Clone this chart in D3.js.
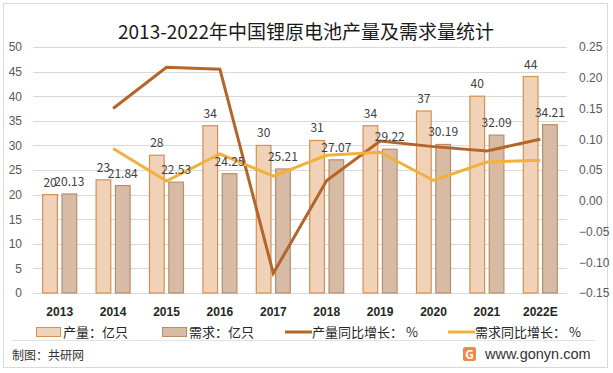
<!DOCTYPE html>
<html>
<head>
<meta charset="utf-8">
<script src="https://cdn.jsdelivr.net/npm/d3@7"></script>
<style>
    body { margin: 0; background: #fff; }
    svg { font-family: "Noto Sans CJK SC", "Noto Sans", sans-serif; }
    .axis path, .axis line { display: none; }
    .y-axis text { fill: #595959; font-size: 12px; }
    .x-axis text { fill: #262626; font-size: 12px; font-weight: bold; }
    .grid line { stroke: #d9d9d9; stroke-width: 1; }
    .bar-label { fill: #404040; font-size: 12px; }
    .legend text { fill: #262626; font-size: 13px; }
</style>
</head>
<body>
<svg id="chart"></svg>
<script>
// data
const years = ['2013', '2014', '2015', '2016', '2017', '2018', '2019', '2020', '2021', '2022E'];
const output = [20, 23, 28, 34, 30, 31, 34, 37, 40, 44];
const demand = [20.13, 21.84, 22.53, 24.25, 25.21, 27.07, 29.22, 30.19, 32.09, 34.21];
const outputGrowth = [null, 0.15, 0.217, 0.214, -0.118, 0.033, 0.097, 0.088, 0.081, 0.10];
const demandGrowth = [null, 0.085, 0.032, 0.076, 0.040, 0.074, 0.079, 0.033, 0.063, 0.066];
const leftTicks = [0, 5, 10, 15, 20, 25, 30, 35, 40, 45, 50];
const rightTicks = [-0.15, -0.10, -0.05, 0.00, 0.05, 0.10, 0.15, 0.20, 0.25];

class comboChart {
    constructor(_config) {
        this.config = {
            parentElement: _config.parentElement,
            containerWidth: _config.containerWidth || 613,
            containerHeight: _config.containerHeight || 373,
            margin: _config.margin || {top: 47, right: 46, bottom: 80, left: 33},
        }
        this.initVis();
    }

    initVis() {
        let vis = this;

        vis.width = vis.config.containerWidth - vis.config.margin.left - vis.config.margin.right;
        vis.height = vis.config.containerHeight - vis.config.margin.top - vis.config.margin.bottom;

        vis.xScale = d3.scaleBand()
            .domain(years)
            .range([0, vis.width]);

        // two bars inside each category
        vis.xInner = d3.scaleBand()
            .domain(['output', 'demand'])
            .range([vis.xScale.bandwidth() / 2 - 17, vis.xScale.bandwidth() / 2 + 17])
            .paddingInner(0.24);

        vis.yScale = d3.scaleLinear()
            .domain([0, 50])
            .range([vis.height, 0]);

        vis.y2Scale = d3.scaleLinear()
            .domain([-0.15, 0.25])
            .range([vis.height, 0]);

        vis.xAxis = d3.axisBottom(vis.xScale).tickSize(0).tickPadding(14);
        vis.yAxis = d3.axisLeft(vis.yScale).tickValues(leftTicks).tickSize(0).tickPadding(11);
        vis.y2Axis = d3.axisRight(vis.y2Scale).tickValues(rightTicks).tickSize(0).tickPadding(12)
            .tickFormat(d3.format('.2f'));

        vis.svg = d3.select(vis.config.parentElement)
            .attr('width', vis.config.containerWidth)
            .attr('height', vis.config.containerHeight);

        // outer frame
        vis.svg.append('rect')
            .attr('x', 3.5).attr('y', 3.5)
            .attr('width', 604).attr('height', 364)
            .attr('fill', '#fff')
            .attr('stroke', '#d9d9d9');

        vis.svg.append('text')
            .attr('x', 306).attr('y', 39)
            .attr('text-anchor', 'middle')
            .attr('font-size', '19px')
            .attr('fill', '#1a1a1a')
            .text('2013-2022年中国锂原电池产量及需求量统计');

        vis.chart = vis.svg.append('g')
            .attr('transform', `translate(${vis.config.margin.left},${vis.config.margin.top})`);

        vis.gridG = vis.chart.append('g').attr('class', 'grid');
        vis.barsG = vis.chart.append('g');
        vis.linesG = vis.chart.append('g');
        vis.labelsG = vis.chart.append('g');

        vis.xAxisG = vis.chart.append('g')
            .attr('class', 'axis x-axis')
            .attr('transform', `translate(0,${vis.height})`);
        vis.yAxisG = vis.chart.append('g')
            .attr('class', 'axis y-axis')
            .attr('transform', 'translate(0,0)');
        vis.y2AxisG = vis.chart.append('g')
            .attr('class', 'axis y-axis')
            .attr('transform', `translate(${vis.width},0)`);
    }

    updateVis() {
        let vis = this;

        vis.data = years.map((y, i) => ({
            year: y, output: output[i], demand: demand[i],
            outGrowth: outputGrowth[i], demGrowth: demandGrowth[i]
        }));

        vis.xCenter = d => vis.xScale(d.year) + vis.xScale.bandwidth() / 2;

        vis.outLine = d3.line()
            .defined(d => d.outGrowth !== null)
            .x(d => vis.xCenter(d))
            .y(d => vis.y2Scale(d.outGrowth));

        vis.demLine = d3.line()
            .defined(d => d.demGrowth !== null)
            .x(d => vis.xCenter(d))
            .y(d => vis.y2Scale(d.demGrowth));

        vis.renderVis();
    }

    renderVis() {
        let vis = this;

        vis.gridG.selectAll('line')
            .data(leftTicks)
            .join('line')
            .attr('x1', 0).attr('x2', vis.width)
            .attr('y1', d => Math.round(vis.yScale(d)) + 0.5)
            .attr('y2', d => Math.round(vis.yScale(d)) + 0.5);

        // production bars
        vis.barsG.selectAll('.bar-out')
            .data(vis.data)
            .join('rect')
            .attr('class', 'bar-out')
            .attr('x', d => vis.xScale(d.year) + vis.xInner('output'))
            .attr('width', vis.xInner.bandwidth())
            .attr('y', d => vis.yScale(d.output))
            .attr('height', d => vis.height - vis.yScale(d.output))
            .attr('fill', '#f0d2b8')
            .attr('stroke', '#d88f4f')
            .attr('stroke-width', 1.2);

        // demand bars
        vis.barsG.selectAll('.bar-dem')
            .data(vis.data)
            .join('rect')
            .attr('class', 'bar-dem')
            .attr('x', d => vis.xScale(d.year) + vis.xInner('demand'))
            .attr('width', vis.xInner.bandwidth())
            .attr('y', d => vis.yScale(d.demand))
            .attr('height', d => vis.height - vis.yScale(d.demand))
            .attr('fill', '#d8bba4')
            .attr('stroke', '#b98d6c')
            .attr('stroke-width', 1.2);

        vis.labelsG.selectAll('.lab-out')
            .data(vis.data)
            .join('text')
            .attr('class', 'bar-label lab-out')
            .attr('text-anchor', 'middle')
            .attr('x', d => vis.xScale(d.year) + vis.xInner('output') + vis.xInner.bandwidth() / 2)
            .attr('y', d => vis.yScale(d.output) - 8)
            .text(d => d.output);

        vis.labelsG.selectAll('.lab-dem')
            .data(vis.data)
            .join('text')
            .attr('class', 'bar-label lab-dem')
            .attr('text-anchor', 'middle')
            .attr('x', d => vis.xScale(d.year) + vis.xInner('demand') + vis.xInner.bandwidth() / 2)
            .attr('y', d => vis.yScale(d.demand) - 8)
            .text(d => d3.format('.2f')(d.demand));

        vis.linesG.append('path')
            .datum(vis.data)
            .attr('d', vis.outLine)
            .attr('fill', 'none')
            .attr('stroke', '#b4652a')
            .attr('stroke-width', 3);

        vis.linesG.append('path')
            .datum(vis.data)
            .attr('d', vis.demLine)
            .attr('fill', 'none')
            .attr('stroke', '#f2b13c')
            .attr('stroke-width', 3);

        vis.xAxisG.call(vis.xAxis);
        vis.yAxisG.call(vis.yAxis);
        vis.y2AxisG.call(vis.y2Axis);
        vis.y2AxisG.selectAll('text').attr('text-anchor', 'start');

        // legend
        const legend = vis.svg.append('g').attr('class', 'legend');
        const items = [
            {label: '产量：亿只', x: 36, type: 'rect', fill: '#f0d2b8', stroke: '#d88f4f'},
            {label: '需求：亿只', x: 162, type: 'rect', fill: '#d8bba4', stroke: '#b98d6c'},
            {label: '产量同比增长： %', x: 285, type: 'line', stroke: '#b4652a'},
            {label: '需求同比增长： %', x: 448, type: 'line', stroke: '#f2b13c'},
        ];
        items.forEach(it => {
            if (it.type === 'rect') {
                legend.append('rect')
                    .attr('x', it.x + 0.5).attr('y', 327.5)
                    .attr('width', 24).attr('height', 9)
                    .attr('fill', it.fill).attr('stroke', it.stroke);
            } else {
                legend.append('line')
                    .attr('x1', it.x).attr('x2', it.x + 27)
                    .attr('y1', 332).attr('y2', 332)
                    .attr('stroke', it.stroke).attr('stroke-width', 3);
            }
            legend.append('text')
                .attr('x', it.x + 27).attr('y', 336.5)
                .text(it.label);
        });

        // footer
        vis.svg.append('line')
            .attr('x1', 12).attr('x2', 595)
            .attr('y1', 340.5).attr('y2', 340.5)
            .attr('stroke', '#e3e3e3');

        vis.svg.append('text')
            .attr('x', 12).attr('y', 360)
            .attr('font-size', '12px')
            .attr('fill', '#333')
            .text('制图：共研网');

        vis.svg.append('rect')
            .attr('x', 463).attr('y', 347)
            .attr('width', 13).attr('height', 14)
            .attr('rx', 2)
            .attr('fill', '#f08a4b');
        vis.svg.append('text')
            .attr('x', 469.5).attr('y', 359)
            .attr('text-anchor', 'middle')
            .attr('font-size', '12px')
            .attr('font-weight', 'bold')
            .attr('fill', '#fff')
            .text('G');

        vis.svg.append('text')
            .attr('x', 485).attr('y', 359)
            .attr('font-family', 'Liberation Sans, Arial, sans-serif')
            .attr('font-size', '14.5px')
            .attr('fill', '#333')
            .text('www.gonyn.com');
    }
}

const chart = new comboChart({parentElement: '#chart'});
chart.updateVis();
</script>
</body>
</html>
